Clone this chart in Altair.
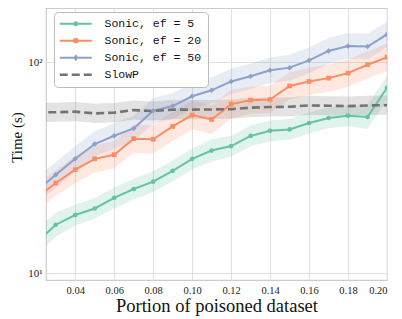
import altair as alt
import pandas as pd

# ---- data ----
x_vals = [0.02, 0.03, 0.04, 0.05, 0.06, 0.07, 0.08, 0.09, 0.10, 0.11,
          0.12, 0.13, 0.14, 0.15, 0.16, 0.17, 0.18, 0.19, 0.20]
series_names = ["Sonic, ef = 5", "Sonic, ef = 20", "Sonic, ef = 50", "SlowP"]
ef5 = [13.9, 17.0, 18.9, 20.3, 22.8, 25.1, 27.2, 30.6, 34.9, 38.2,
       40.1, 44.8, 47.4, 48.1, 51.6, 54.5, 55.9, 55.1, 75.8]
ef20 = [22.8, 26.8, 31.0, 34.9, 36.5, 43.5, 43.2, 49.7, 56.3, 53.6,
        63.4, 66.2, 66.7, 77.3, 81.2, 84.2, 88.9, 97.4, 105.8]
ef50 = [24.5, 29.3, 34.9, 41.0, 44.9, 48.6, 59.0, 62.1, 69.1, 73.7,
        81.2, 86.0, 91.8, 94.4, 102.2, 113.3, 119.6, 118.8, 135.6]
slowp = [58.0, 58.0, 58.4, 57.3, 57.8, 59.4, 58.8, 59.7, 59.7, 59.8,
         60.0, 61.0, 61.4, 61.6, 62.5, 62.3, 62.0, 62.5, 62.7]
# relative half-width of the shaded bands
ef5_spread = [0.16, 0.14, 0.12, 0.12, 0.12, 0.12, 0.12, 0.12, 0.12, 0.13,
              0.12, 0.12, 0.12, 0.12, 0.12, 0.12, 0.12, 0.14, 0.14]
ef20_spread = [0.16, 0.15, 0.16, 0.16, 0.16, 0.17, 0.17, 0.17, 0.17, 0.17,
               0.17, 0.16, 0.16, 0.16, 0.16, 0.16, 0.16, 0.16, 0.16]
ef50_spread = [0.15, 0.15, 0.15, 0.15, 0.15, 0.15, 0.15, 0.15, 0.15, 0.15,
               0.15, 0.15, 0.15, 0.15, 0.15, 0.15, 0.15, 0.15, 0.15]
slowp_spread = [0.11, 0.11, 0.11, 0.11, 0.11, 0.11, 0.11, 0.11, 0.11, 0.11,
                0.11, 0.11, 0.11, 0.11, 0.11, 0.11, 0.11, 0.11, 0.11]
colors = ["#66c2a5", "#fc8d62", "#8da0cb", "#737373"]
markers = ["circle", "square", "diamond"]

rows = []
for name, vals, spr in zip(series_names, [ef5, ef20, ef50, slowp],
                           [ef5_spread, ef20_spread, ef50_spread, slowp_spread]):
    for xv, v, s in zip(x_vals, vals, spr):
        rows.append({"series": name, "x": xv, "y": v,
                     "lo": v / (1 + s), "hi": v * (1 + s)})
df = pd.DataFrame(rows)

SERIF = "Liberation Serif"

xscale = alt.Scale(domain=[0.025, 0.20], nice=False, zero=False)
yscale = alt.Scale(type="log", domain=[9.3, 181], nice=False)
color_scale = alt.Scale(domain=series_names, range=colors)

# legend symbol paths (unit = 3 px): line + marker, dashed line for SlowP
line_p = "M-5.33,-0.33H5.33V0.33H-5.33Z"
circ_p = "M-0.85,0A0.85,0.85,0,1,1,0.85,0A0.85,0.85,0,1,1,-0.85,0Z"
sq_p = "M-0.8,-0.8H0.8V0.8H-0.8Z"
dia_p = "M0,-1.15L0.85,0L0,1.15L-0.85,0Z"
dash_p = ("M-5.33,-0.4H-2.67V0.4H-5.33Z M-1.33,-0.4H1.33V0.4H-1.33Z "
          "M2.67,-0.4H5.33V0.4H2.67Z")
legend_shapes = [line_p + " " + circ_p, line_p + " " + sq_p, line_p + " " + dia_p, dash_p]

legend = alt.Legend(
    title=None, orient="none", legendX=8, legendY=4, direction="vertical",
    fillColor="white", strokeColor="#bbbbbb", cornerRadius=4, padding=6,
    labelFont="Liberation Mono", labelFontSize=11.5, labelColor="#111111",
    symbolSize=36, symbolStrokeWidth=0, symbolOffset=10, labelOffset=23,
    rowPadding=4, symbolOpacity=1,
)

base = alt.Chart(df)

# legend carrier layer (zero-size points, only provides the legend)
legend_layer = base.transform_filter(alt.datum.x < 0.025).mark_point(
    filled=True, opacity=1, clip=True, size=0).encode(
    x=alt.X("x:Q", scale=xscale),
    y=alt.Y("y:Q", scale=yscale),
    color=alt.Color("series:N", scale=color_scale, legend=legend),
    shape=alt.Shape("series:N", scale=alt.Scale(domain=series_names, range=legend_shapes),
                    legend=legend),
)

band = base.mark_area(fillOpacity=0.2, clip=True).encode(
    x=alt.X("x:Q", scale=xscale),
    y=alt.Y("lo:Q", scale=yscale),
    y2="hi:Q",
    color=alt.Color("series:N", scale=color_scale),
)

lines = base.transform_filter(alt.datum.series != "SlowP").mark_line(
    strokeWidth=2, clip=True).encode(
    x=alt.X("x:Q", scale=xscale),
    y=alt.Y("y:Q", scale=yscale),
    color=alt.Color("series:N", scale=color_scale),
)

slow = base.transform_filter(alt.datum.series == "SlowP").mark_line(
    strokeWidth=2.6, strokeDash=[8, 4], clip=True).encode(
    x=alt.X("x:Q", scale=xscale),
    y=alt.Y("y:Q", scale=yscale),
    color=alt.Color("series:N", scale=color_scale),
)

pt_layers = []
for name, mk, sz in zip(series_names[:3], markers, [22, 22, 30]):
    pt_layers.append(
        base.transform_filter(alt.datum.series == name).mark_point(
            filled=True, opacity=1, clip=True, size=sz, shape=mk).encode(
            x=alt.X("x:Q", scale=xscale),
            y=alt.Y("y:Q", scale=yscale),
            color=alt.Color("series:N", scale=color_scale),
        )
    )

chart = alt.layer(legend_layer, band, lines, slow, *pt_layers).encode(
    x=alt.X("x:Q", scale=xscale, title="Portion of poisoned dataset",
            axis=alt.Axis(values=[0.04, 0.06, 0.08, 0.10, 0.12, 0.14, 0.16, 0.18, 0.20],
                          format=".2f", ticks=False, domain=False, grid=True,
                          gridColor="#e0e0e0", labelFont=SERIF, labelFontSize=10.5,
                          labelColor="#222222", labelPadding=5,
                          titleFont=SERIF, titleFontSize=18.5, titleFontWeight="normal",
                          titleColor="#111111", titlePadding=1)),
    y=alt.Y("y:Q", scale=yscale, title="Time (s)",
            axis=alt.Axis(values=[10, 100], labelExpr="datum.value >= 100 ? '10²' : '10¹'",
                          ticks=False, domain=False, grid=True, gridColor="#e0e0e0",
                          labelFont=SERIF, labelFontSize=11, labelColor="#222222",
                          labelPadding=4, titleFont=SERIF, titleFontSize=15,
                          titleFontWeight="normal", titleColor="#111111", titlePadding=3,
                          titleY=129)),
).properties(
    width=341, height=272,
    autosize=alt.AutoSizeParams(type="none"),
    padding={"left": 38, "top": 0, "right": 7, "bottom": 42},
).configure_view(stroke="#cccccc", strokeWidth=1.2)

chart.save("out.html", embed_options={"renderer": "svg", "actions": False})
